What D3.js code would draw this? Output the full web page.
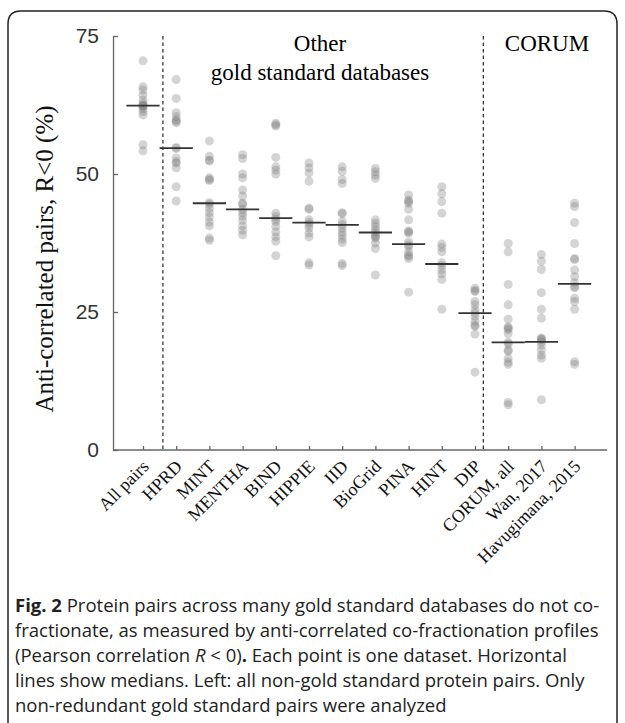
<!DOCTYPE html>
<html>
<head>
<meta charset="utf-8">
<script src="https://cdn.jsdelivr.net/npm/d3@7"></script>
<style>
  body { margin: 0; background: #fff; }
  svg { display: block; }
</style>
</head>
<body>
<div id="chart"></div>
<script>
// categories along the x axis
const categories = ["All pairs", "HPRD", "MINT", "MENTHA", "BIND", "HIPPIE", "IID",
  "BioGrid", "PINA", "HINT", "DIP", "CORUM, all", "Wan, 2017", "Havugimana, 2015"];

// one value per dataset (% anti-correlated pairs)
const allPairs = [70.5, 65.8, 65.2, 64.3, 63.4, 62.8, 62.4, 62.4, 62.2, 61.8, 61.3, 60.7, 55.3, 54.2];
const hprd = [67.1, 63.7, 61.1, 60.4, 59.8, 59.6, 59.3, 54.8, 54.6, 52.9, 52.2, 52.0, 51.1, 47.7, 45.1];
const mint = [56.0, 53.2, 52.5, 52.4, 49.3, 48.8, 49.0, 44.8, 44.5, 43.8, 43.0, 42.2, 41.3, 40.6, 38.4, 38.0];
const mentha = [53.5, 52.8, 50.0, 49.3, 47.1, 46.0, 44.7, 44.5, 43.6, 43.0, 42.4, 41.6, 40.6, 39.8, 39.0];
const bind = [59.2, 58.9, 58.7, 53.0, 51.3, 50.7, 50.0, 42.9, 42.3, 41.8, 41.4, 40.5, 39.5, 38.6, 37.8, 35.2];
const hippie = [52.0, 51.1, 50.2, 48.7, 43.8, 43.6, 41.7, 41.2, 40.8, 40.2, 39.3, 38.6, 33.9, 33.5];
const iid = [51.3, 50.5, 49.0, 48.3, 43.0, 42.8, 41.4, 40.8, 40.2, 39.5, 38.9, 38.2, 37.6, 33.8, 33.4];
const biogrid = [51.0, 50.4, 49.8, 49.2, 41.7, 41.1, 40.5, 39.9, 39.4, 38.9, 38.6, 38.4, 37.5, 36.5, 31.7];
const pina = [46.2, 45.3, 45.0, 44.7, 43.6, 41.7, 39.7, 39.5, 39.3, 37.7, 37.2, 36.8, 35.9, 35.3, 35.1, 34.7, 28.6];
const hint = [47.7, 46.4, 45.0, 42.9, 37.3, 36.7, 35.9, 33.9, 33.4, 32.6, 31.9, 30.9, 25.5];
const dip = [29.3, 28.9, 28.7, 26.9, 26.3, 25.4, 24.8, 24.2, 23.3, 22.6, 22.4, 21.0, 14.1];
const corumAll = [37.4, 35.9, 30.0, 26.3, 23.7, 22.3, 22.1, 21.8, 21.1, 19.5, 19.2, 18.1, 17.9, 16.6, 15.9, 15.5, 8.6, 8.2];
const wan2017 = [35.4, 34.2, 32.7, 28.5, 25.5, 23.9, 20.3, 20.1, 20.0, 19.6, 19.0, 18.1, 17.2, 16.6, 9.1];
const havugimana2015 = [44.7, 44.1, 41.2, 37.4, 34.7, 34.5, 32.6, 31.4, 30.3, 29.6, 29.4, 27.5, 26.9, 25.5, 16.0, 15.5];

// median lines as drawn in the figure
const medians = [62.4, 54.7, 44.7, 43.6, 42.0, 41.2, 40.8, 39.4, 37.3, 33.7, 24.8, 19.5, 19.6, 30.1];

const yTicks = [0, 25, 50, 75];

const series = [allPairs, hprd, mint, mentha, bind, hippie, iid, biogrid, pina, hint, dip,
  corumAll, wan2017, havugimana2015];

const W = 625, H = 723;
const svg = d3.select("#chart").append("svg")
  .attr("width", W)
  .attr("height", H);

// panel border (rounded, runs off the bottom)
svg.append("path")
  .attr("d", "M8,760 L8,24 Q8,11 21,11 L604,11 Q617,11 617,24 L617,760")
  .attr("fill", "none")
  .attr("stroke", "#222")
  .attr("stroke-width", 1.5);

const x = d3.scalePoint()
  .domain(categories)
  .range([143, 574.6]);
const step = x.step();

const y = d3.scaleLinear()
  .domain([0, 75])
  .range([450, 36]);

const axisX0 = 113;
const serif = "Liberation Serif, Times New Roman, serif";

// y axis
svg.append("g")
  .attr("transform", `translate(${axisX0},0)`)
  .call(d3.axisLeft(y).tickValues(yTicks).tickSize(-5).tickSizeOuter(0).tickPadding(14))
  .call(g => g.select(".domain").attr("stroke", "#666").attr("stroke-width", 1.3))
  .call(g => g.selectAll(".tick line").attr("stroke", "#666").attr("stroke-width", 1.3))
  .call(g => g.selectAll("text")
    .style("font-family", "Liberation Sans, Arial, sans-serif")
    .style("font-size", "21px")
    .attr("fill", "#333"));

// x axis
const xAxisG = svg.append("g")
  .attr("transform", `translate(0,${y(0)})`)
  .call(d3.axisBottom(x).tickSize(-4).tickSizeOuter(0).tickPadding(8));
xAxisG.select(".domain")
  .attr("d", `M${axisX0},0H607`)
  .attr("stroke", "#666").attr("stroke-width", 1.3);
xAxisG.selectAll(".tick line").attr("stroke", "#666").attr("stroke-width", 1.3);
xAxisG.selectAll("text")
  .attr("y", 0)
  .style("font-family", serif)
  .style("font-size", "18px")
  .attr("fill", "#111")
  .attr("text-anchor", "end")
  .attr("dy", "0.35em")
  .attr("transform", "translate(2,13) rotate(-45)");

// group separators
const dividers = [0.6, 10.25];
svg.selectAll("line.divider")
  .data(dividers)
  .enter()
  .append("line")
  .attr("class", "divider")
  .attr("x1", d => x(categories[0]) + d * step)
  .attr("x2", d => x(categories[0]) + d * step)
  .attr("y1", y(75))
  .attr("y2", y(0))
  .attr("stroke", "#111")
  .attr("stroke-width", 1.1)
  .attr("stroke-dasharray", "3.5,3");

// points
const pts = [];
series.forEach((vals, i) => vals.forEach(v => pts.push({ cat: categories[i], v: v })));

svg.append("g")
  .selectAll("circle")
  .data(pts)
  .enter()
  .append("circle")
  .attr("cx", d => x(d.cat))
  .attr("cy", d => y(d.v))
  .attr("r", 4.5)
  .attr("fill", "#7a7a7a")
  .attr("fill-opacity", 0.32);

// medians
svg.append("g")
  .selectAll("line")
  .data(medians)
  .enter()
  .append("line")
  .attr("x1", (d, i) => x(categories[i]) - step / 2)
  .attr("x2", (d, i) => x(categories[i]) + step / 2)
  .attr("y1", d => y(d))
  .attr("y2", d => y(d))
  .attr("stroke", "#333")
  .attr("stroke-width", 1.8);

// group titles
svg.append("text")
  .attr("x", 320).attr("y", 51)
  .attr("text-anchor", "middle")
  .style("font-family", serif).style("font-size", "23px")
  .text("Other");
svg.append("text")
  .attr("x", 320).attr("y", 80)
  .attr("text-anchor", "middle")
  .style("font-family", serif).style("font-size", "23px")
  .text("gold standard databases");
svg.append("text")
  .attr("x", 547).attr("y", 51)
  .attr("text-anchor", "middle")
  .style("font-family", serif).style("font-size", "23px")
  .text("CORUM");

// y title
svg.append("text")
  .attr("transform", `translate(53,${(y(0) + y(75)) / 2 + 16}) rotate(-90)`)
  .attr("text-anchor", "middle")
  .style("font-family", serif)
  .style("font-size", "25px")
  .attr("fill", "#111")
  .text("Anti-correlated pairs, R<0 (%)");

// caption
const caption = svg.append("text")
  .style("font-family", "Open Sans, Noto Sans, sans-serif")
  .style("font-size", "18.5px")
  .attr("fill", "#222");
const capLines = [
  [["Fig. 2", "bold"], [" Protein pairs across many gold standard databases do not co-", ""]],
  [["fractionate, as measured by anti-correlated co-fractionation profiles", ""]],
  [["(Pearson correlation ", ""], ["R", "italic"], [" < 0)", ""], [".", "bold"], [" Each point is one dataset. Horizontal", ""]],
  [["lines show medians. Left: all non-gold standard protein pairs. Only", ""]],
  [["non-redundant gold standard pairs were analyzed", ""]]
];
capLines.forEach((parts, li) => {
  parts.forEach((p, pi) => {
    const t = caption.append("tspan").text(p[0]);
    if (pi === 0) t.attr("x", 15).attr("y", 612 + li * 25);
    if (p[1] === "bold") t.style("font-weight", "bold");
    if (p[1] === "italic") t.style("font-style", "italic");
  });
});
</script>
</body>
</html>
